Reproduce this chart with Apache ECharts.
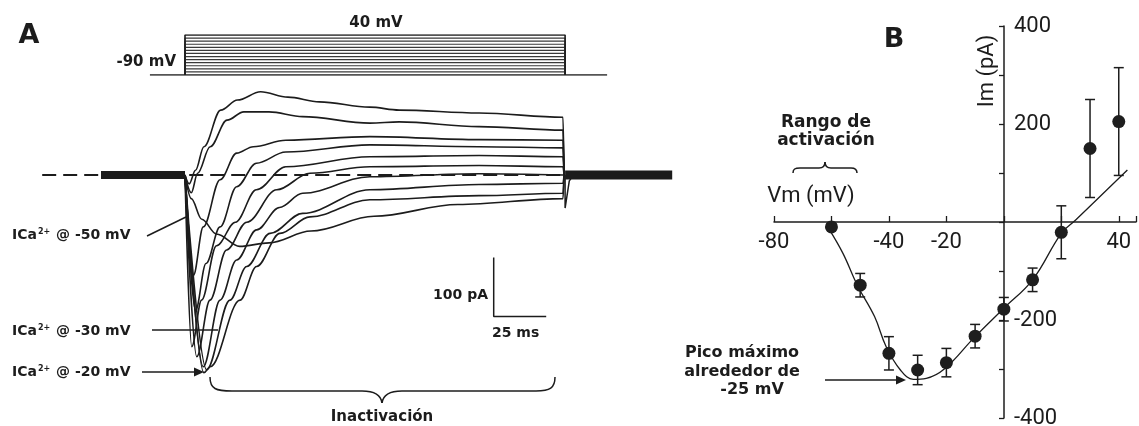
<!DOCTYPE html>
<html>
<head>
<meta charset="utf-8">
<script src="https://cdn.jsdelivr.net/npm/echarts/dist/echarts.min.js"></script>
<style>
  html, body { margin: 0; background: #fff; }
  #chart { width: 1139px; height: 426px; }
</style>
</head>
<body>
<div id="chart"></div>
<script>
// ---- panel A: voltage protocol (mV) ----
const holdingPotential = -90
const protocolLevels = [-80, -70, -60, -50, -40, -30, -20, -10, 0, 10, 20, 30, 40]
const stepStart = 0
const stepEnd = 181

// ---- panel A: current traces, [time ms, current pA] ----
const trace40 = [[0, 0], [2, -15], [5, 8], [9, 48], [17, 110], [25, 127], [36, 141], [49, 132], [64, 124], [88, 115], [102, 110], [140, 105], [180, 98], [180.5, 0]]
const trace30 = [[0, 0], [3, -30], [6, 3], [12, 48], [20, 93], [28, 107], [40, 107], [56, 99], [88, 88], [102, 90], [140, 82], [180, 76], [180.5, 0]]
const trace20 = [[0, 0], [4, -170], [8.7, -88], [16.7, -8], [24.6, 37], [32.5, 48], [48, 59], [88, 65], [140, 60], [180, 59], [180.5, 0]]
const trace10 = [[0, 0], [5, -230], [10, -150], [16.7, -88], [24.6, -20], [34, 20], [48, 39], [88, 51], [140, 48], [180, 46], [180.5, 0]]
const trace0 = [[0, 0], [3.2, -291], [7.9, -212], [15, -120], [24, -80], [34, -25], [48, 14], [88, 31], [140, 33], [180, 31], [180.5, 0]]
const traceM10 = [[0, 0], [5.6, -308], [11.9, -212], [19.8, -127], [29.4, -80], [43.7, -25], [59.5, 3], [88, 14], [140, 16], [180, 14], [180.5, 0]]
const traceM40 = [[0, 0], [8.7, -325], [16.7, -212], [24.6, -144], [34.1, -93], [45, -55], [56, -31], [88, -3], [140, 2], [180, 0]]
const traceM30 = [[0, 0], [10.3, -330], [21.4, -212], [29.4, -155], [40.5, -99], [56, -65], [88, -25], [140, -16], [180, -14], [180.5, 0]]
const traceM20 = [[0, 0], [9, -335], [12, -325], [26.2, -212], [34.1, -155], [45.2, -99], [59.5, -71], [88, -42], [140, -35], [180, -31], [180.5, 0]]
const traceM50 = [[0, 0], [3, -40], [8, -75], [15, -100], [26, -121], [40, -115], [60, -95], [90, -70], [130, -50], [180, -40], [180.5, 0]]
const traces = [trace40, trace30, trace20, trace10, trace0, traceM10, traceM40, traceM30, traceM20, traceM50]

const tailSpike = [[181, 0], [181, -56], [183, -10], [185, 0]]
const preBaseline = [[-40, 0], [0, 0]]
const postBaseline = [[181, 0], [232, 0]]
const zeroLine = [[-68, 0], [180, 0]]
const scaleBar = [[147, -140], [147, -240], [172, -240]]

// ---- panel B: I-V relation ----
const ivVoltage = [-60, -50, -40, -30, -20, -10, 0, 10, 20, 30, 40]
const ivCurrent = [-10, -129, -268, -302, -287, -233, -178, -118, -21, 150, 205]
const ivError = [6, 24, 34, 30, 29, 24, 24, 24, 54, 100, 110]
const fitVoltage = [-61, -56, -51, -45, -41, -36, -31.5, -27, -20.5, -10.5, 0, 10, 20, 25, 43]
const fitCurrent = [-13, -64, -129, -193, -254, -302, -321, -319, -299, -237, -176, -118, -23, 4, 106]
const xLabelsShown = [-80, -40, -20, 40]
const yLabelsShown = [400, 200, -200, -400]

const ink = '#1c1c1c'
const boldFont = 'bold 15px "DejaVu Sans", Verdana, sans-serif'

function label(text, x, y, opts = {}) {
  return {
    type: 'text', x, y, rotation: opts.rotation || 0, z: 20,
    style: {
      text, fill: ink,
      font: opts.font || boldFont,
      align: opts.align || 'center',
      verticalAlign: 'middle',
      rich: opts.rich
    }
  }
}
function seg(x1, y1, x2, y2) {
  return { type: 'line', z: 20, shape: { x1, y1, x2, y2 }, style: { stroke: ink, lineWidth: 1.5 } }
}
function curve(x1, y1, cpx1, cpy1, cpx2, cpy2, x2, y2) {
  return { type: 'bezierCurve', z: 20, shape: { x1, y1, cpx1, cpy1, cpx2, cpy2, x2, y2 },
    style: { stroke: ink, lineWidth: 1.5, fill: null } }
}
function head(points) {
  return { type: 'polygon', z: 20, shape: { points }, style: { fill: ink } }
}
const supRich = { s: { font: 'bold 8px "DejaVu Sans", sans-serif', fill: ink, verticalAlign: 'top', padding: [0, 1, 6, 1] } }

const chart = echarts.init(document.getElementById('chart'), null, { renderer: 'canvas' })

const series = []
// dashed zero-current reference
series.push({ type: 'line', xAxisIndex: 0, yAxisIndex: 0, data: zeroLine, symbol: 'none', silent: true,
  lineStyle: { color: ink, width: 2, type: [14, 7] } })
traces.forEach(function (tr) {
  series.push({ type: 'line', xAxisIndex: 0, yAxisIndex: 0, data: tr, symbol: 'none', silent: true,
    smooth: 0.35, smoothMonotone: 'x', lineStyle: { color: ink, width: 1.6 } })
})
series.push({ type: 'line', xAxisIndex: 0, yAxisIndex: 0, data: tailSpike, symbol: 'none', lineStyle: { color: ink, width: 1.5 } })
series.push({ type: 'line', xAxisIndex: 0, yAxisIndex: 0, data: preBaseline, symbol: 'none', lineStyle: { color: ink, width: 8 } })
series.push({ type: 'line', xAxisIndex: 0, yAxisIndex: 0, data: postBaseline, symbol: 'none', lineStyle: { color: ink, width: 9 } })
series.push({ type: 'line', xAxisIndex: 0, yAxisIndex: 0, data: scaleBar, symbol: 'none', lineStyle: { color: ink, width: 1.5 } })

// protocol
series.push({ type: 'line', xAxisIndex: 1, yAxisIndex: 1, symbol: 'none',
  data: [[-16.7, holdingPotential], [201, holdingPotential]], lineStyle: { color: ink, width: 1.6 } })
protocolLevels.forEach(function (v, i) {
  const last = i === protocolLevels.length - 1
  series.push({ type: 'line', xAxisIndex: 1, yAxisIndex: 1, symbol: 'none',
    data: [[stepStart, holdingPotential], [stepStart, v], [stepEnd, v], [stepEnd, holdingPotential]],
    lineStyle: { color: last ? ink : '#3a3a3a', width: last ? 1.6 : 1.2 } })
})

// I-V
series.push({ type: 'line', xAxisIndex: 2, yAxisIndex: 2, symbol: 'none', smooth: 0.4,
  data: fitVoltage.map((v, i) => [v, fitCurrent[i]]), lineStyle: { color: ink, width: 1.3 } })
series.push({
  type: 'custom', xAxisIndex: 2, yAxisIndex: 2, z: 5,
  data: ivVoltage.map((v, i) => [v, ivCurrent[i] + ivError[i], ivCurrent[i] - ivError[i]]),
  renderItem: function (params, api) {
    const top = api.coord([api.value(0), api.value(1)])
    const bot = api.coord([api.value(0), api.value(2)])
    const w = 5
    const st = { stroke: ink, lineWidth: 1.5 }
    return { type: 'group', children: [
      { type: 'line', shape: { x1: top[0], y1: top[1], x2: bot[0], y2: bot[1] }, style: st },
      { type: 'line', shape: { x1: top[0] - w, y1: top[1], x2: top[0] + w, y2: top[1] }, style: st },
      { type: 'line', shape: { x1: bot[0] - w, y1: bot[1], x2: bot[0] + w, y2: bot[1] }, style: st }
    ] }
  }
})
series.push({ type: 'scatter', xAxisIndex: 2, yAxisIndex: 2, z: 6, symbolSize: 13,
  data: ivVoltage.map((v, i) => [v, ivCurrent[i]]), itemStyle: { color: '#1e1e1e', opacity: 1 } })

const hidden = { show: false }
const vmRange = { min: -80, max: 46 }
const imRange = { min: -400, max: 400 }
const axisFont = { color: ink, fontSize: 22, fontFamily: 'Roboto, sans-serif' }

chart.setOption({
  animation: false,
  backgroundColor: '#fff',
  grid: [
    { left: 38, right: 450, top: 57, bottom: 38.6, outerBoundsMode: 'none' },
    { left: 38, right: 450, top: 35, bottom: 351, outerBoundsMode: 'none' },
    // panel B data area
    { left: 774, right: 3, top: 26, bottom: 8, outerBoundsMode: 'none' },
    // panel B: grid whose bottom edge is the Vm axis (I = 0)
    { left: 774, right: 3, top: 26, bottom: 204, outerBoundsMode: 'none' },
    // panel B: grid whose left edge is the Im axis (V = 0)
    { left: 1004, right: 3, top: 26, bottom: 8, outerBoundsMode: 'none' }
  ],
  xAxis: [
    Object.assign({ type: 'value', gridIndex: 0, min: -70, max: 240 }, hidden),
    Object.assign({ type: 'value', gridIndex: 1, min: -70, max: 240 }, hidden),
    Object.assign({ type: 'value', gridIndex: 2 }, vmRange, hidden),
    Object.assign({
      type: 'value', gridIndex: 3, position: 'bottom', interval: 20,
      splitLine: { show: false },
      axisLine: { onZero: false, lineStyle: { color: ink, width: 1.5 } },
      axisTick: { inside: true, length: 6, lineStyle: { color: ink, width: 1.3 } },
      axisLabel: Object.assign({ margin: 9, formatter: v => xLabelsShown.indexOf(v) >= 0 ? String(v) : '' }, axisFont)
    }, vmRange),
    Object.assign({ type: 'value', gridIndex: 4, min: 0, max: 1 }, hidden)
  ],
  yAxis: [
    Object.assign({ type: 'value', gridIndex: 0, min: -360, max: 200 }, hidden),
    Object.assign({ type: 'value', gridIndex: 1, min: -90, max: 40 }, hidden),
    Object.assign({ type: 'value', gridIndex: 2 }, imRange, hidden),
    Object.assign({ type: 'value', gridIndex: 3, min: 0, max: 1 }, hidden),
    Object.assign({
      type: 'value', gridIndex: 4, position: 'left', interval: 100,
      splitLine: { show: false },
      axisLine: { onZero: false, lineStyle: { color: ink, width: 1.5 } },
      axisTick: { length: 5, lineStyle: { color: ink, width: 1.3 } },
      axisLabel: Object.assign({ inside: true, margin: 10, formatter: v => yLabelsShown.indexOf(v) >= 0 ? String(v) : '' }, axisFont)
    }, imRange)
  ],
  series: series,
  graphic: [
    label('A', 29, 36, { font: 'bold 27px "DejaVu Sans", sans-serif' }),
    label('B', 894, 40, { font: 'bold 27px "DejaVu Sans", sans-serif' }),
    label('-90 mV', 176, 62, { align: 'right' }),
    label('40 mV', 376, 23),
    label('ICa{s|2+} @ -50 mV', 12, 235, { align: 'left', font: 'bold 14px "DejaVu Sans", sans-serif', rich: supRich }),
    label('ICa{s|2+} @ -30 mV', 12, 331, { align: 'left', font: 'bold 14px "DejaVu Sans", sans-serif', rich: supRich }),
    label('ICa{s|2+} @ -20 mV', 12, 372, { align: 'left', font: 'bold 14px "DejaVu Sans", sans-serif', rich: supRich }),
    seg(147, 236, 186, 217),
    seg(152, 330, 218, 330),
    seg(142, 372, 196, 372),
    head([[204, 372], [194, 367.5], [194, 376.5]]),
    label('100 pA', 488, 295, { align: 'right', font: 'bold 14px "DejaVu Sans", sans-serif' }),
    label('25 ms', 492, 333, { align: 'left', font: 'bold 14px "DejaVu Sans", sans-serif' }),
    // brace under the inactivation phase
    curve(210, 377, 210, 389, 216, 391, 232, 391),
    seg(232, 391, 362, 391),
    curve(362, 391, 374, 391, 381, 395, 382, 403),
    curve(382, 403, 383, 395, 390, 391, 402, 391),
    seg(402, 391, 536, 391),
    curve(536, 391, 550, 391, 555, 388, 555, 377),
    label('Inactivación', 382, 417),
    label('Rango de', 826, 123, { font: 'bold 17px "DejaVu Sans", sans-serif' }),
    label('activación', 826, 141, { font: 'bold 17px "DejaVu Sans", sans-serif' }),
    // small brace under activation range label
    curve(793, 173, 793, 169, 795, 168, 800, 168),
    seg(800, 168, 819, 168),
    curve(819, 168, 823, 168, 825, 166, 825, 162),
    curve(825, 162, 825, 166, 827, 168, 831, 168),
    seg(831, 168, 851, 168),
    curve(851, 168, 855, 168, 857, 169, 857, 173),
    label('Vm (mV)', 811, 196, { font: '22px Roboto, sans-serif' }),
    label('Im (pA)', 987, 71, { font: '22px Roboto, sans-serif', rotation: Math.PI / 2 }),
    label('Pico máximo', 742, 353, { font: 'bold 16px "DejaVu Sans", sans-serif' }),
    label('alrededor de', 742, 372, { font: 'bold 16px "DejaVu Sans", sans-serif' }),
    label('-25 mV', 752, 390, { font: 'bold 16px "DejaVu Sans", sans-serif' }),
    seg(825, 380, 897, 380),
    head([[906, 380], [896, 375.5], [896, 384.5]])
  ]
})
</script>
</body>
</html>
